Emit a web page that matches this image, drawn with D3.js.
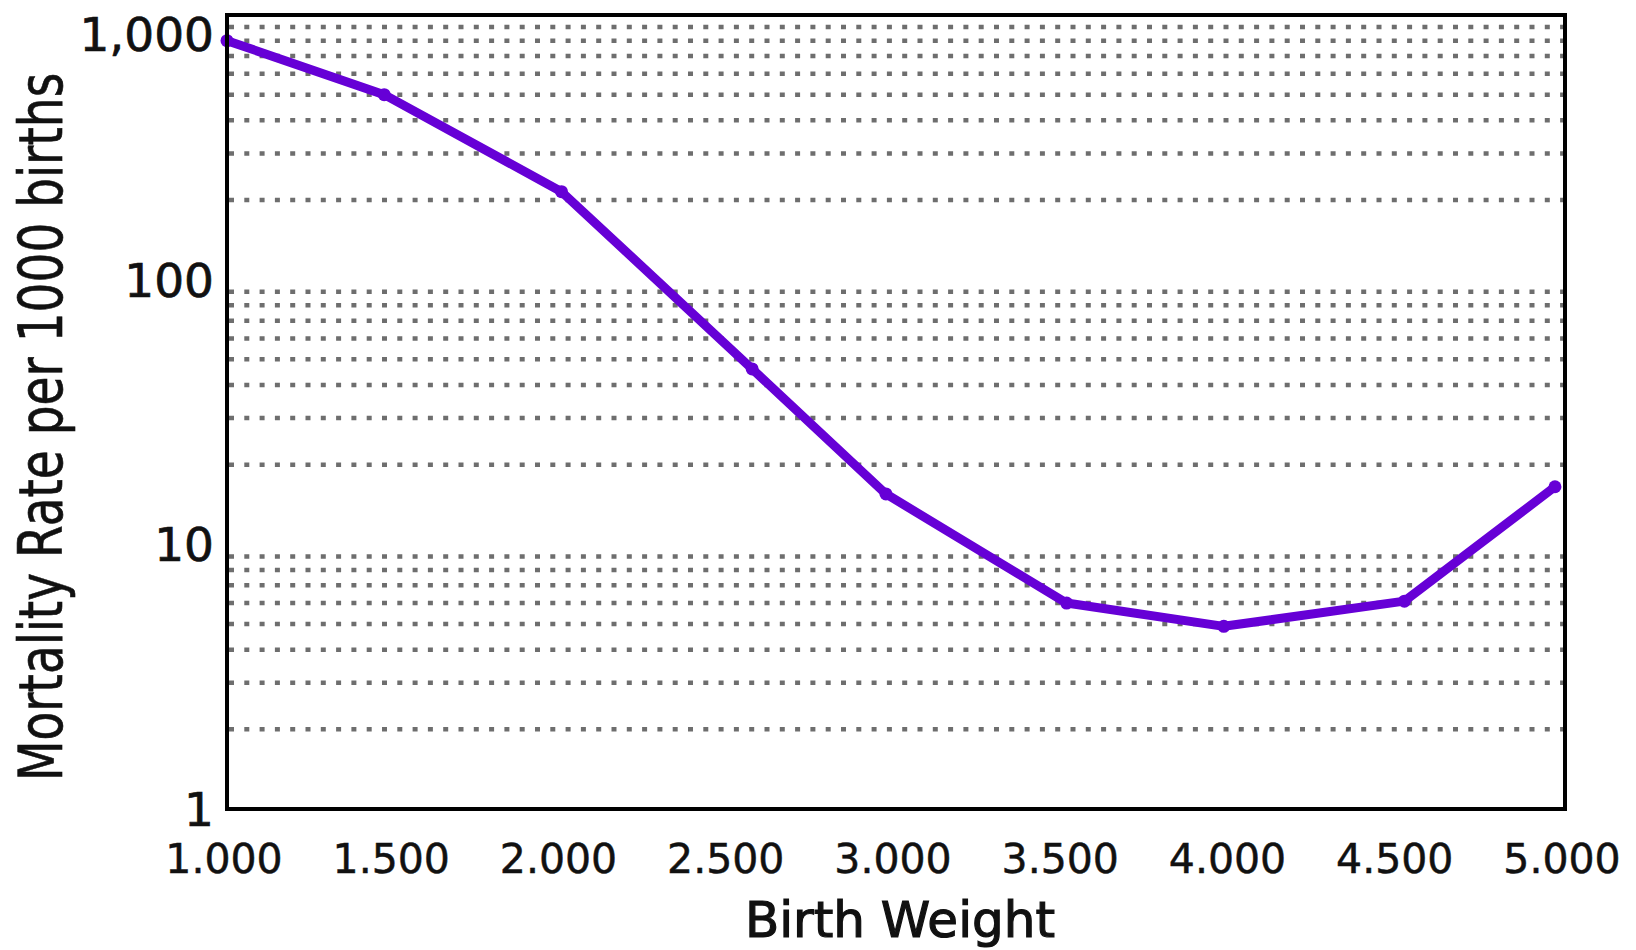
<!DOCTYPE html>
<html>
<head>
<meta charset="utf-8">
<script src="https://cdn.jsdelivr.net/npm/d3@7"></script>
<style>
    body { margin: 0; background: #fff; }
    text { font-family: "DejaVu Sans", Verdana, sans-serif; fill: #111; }
</style>
</head>
<body>
<svg id="viz_mortality"></svg>
<script>
// birth weight (g) and neonatal mortality per 1000 births
var weights = [1000, 1470, 2000, 2570, 2970, 3510, 3980, 4520, 4970];
var rates = [800, 500, 215, 46, 15.5, 6, 4.9, 6.1, 16.5];
var xTicks = [1000, 1500, 2000, 2500, 3000, 3500, 4000, 4500, 5000];
var yTicks = [1, 10, 100, 1000];
var xTitle = "Birth Weight";
var yTitle = "Mortality Rate per 1000 births";

var width = 1636,
    height = 950,
    margin = {
        "top": 15,
        "right": 71,
        "bottom": 141,
        "left": 227
    },
    purple = "#6600d6",
    inner_w = width - margin.left - margin.right,
    inner_h = height - margin.top - margin.bottom;

var svg = d3.select("svg#viz_mortality")
        .attr("width", width)
        .attr("height", height);

var x = d3.scaleLinear()
    .domain([1000, 5000])
    .range([margin.left, margin.left + inner_w]);

var y = d3.scaleLog()
    .domain([1, 1000])
    .range([margin.top + inner_h, margin.top]);

// dotted minor grid (2..9, 20..90, 200..900), no line on the decades
var minor = y.ticks().filter(function(d) {
    return Math.abs(Math.log10(d) - Math.round(Math.log10(d))) > 1e-6;
});

svg.append("g")
        .attr("class", "grid")
    .selectAll("line")
    .data(minor)
    .enter()
    .append("line")
        .attr("x1", x(1000) + 2)
        .attr("x2", x(5000))
        .attr("y1", function(d) { return y(d); })
        .attr("y2", function(d) { return y(d); })
        .attr("stroke", "#6e6e6e")
        .attr("stroke-width", 4.5)
        .attr("stroke-dasharray", "5,10.3");

var line = d3.line()
    .x(function(d, i) { return x(weights[i]); })
    .y(function(d) { return y(d); });

svg.append("path")
    .datum(rates)
        .attr("d", line)
        .attr("fill", "none")
        .attr("stroke", purple)
        .attr("stroke-width", 9)
        .attr("stroke-linejoin", "round")
        .attr("stroke-linecap", "round");

svg.selectAll("circle.pt")
    .data(rates)
    .enter()
    .append("circle")
        .attr("class", "pt")
        .attr("cx", function(d, i) { return x(weights[i]); })
        .attr("cy", function(d) { return y(d); })
        .attr("r", 6.5)
        .attr("fill", purple);

// frame
svg.append("rect")
    .attr("x", margin.left)
    .attr("y", margin.top)
    .attr("width", inner_w)
    .attr("height", inner_h)
    .attr("fill", "none")
    .attr("stroke", "#000")
    .attr("stroke-width", 4);

svg.append("g")
        .attr("class", "y_labels")
    .selectAll("text")
    .data(yTicks)
    .enter()
    .append("text")
        .attr("x", margin.left - 13)
        .attr("y", function(d) { return Math.max(y(d), 34); })
        .attr("dy", "0.36em")
        .attr("text-anchor", "end")
        .style("font-size", "47px")
        .style("stroke", "#111")
        .style("stroke-width", 0.7)
        .text(d3.format(","));

svg.append("g")
        .attr("class", "x_labels")
    .selectAll("text")
    .data(xTicks)
    .enter()
    .append("text")
        .attr("x", function(d) { return x(d) - 3; })
        .attr("y", margin.top + inner_h + 64)
        .attr("text-anchor", "middle")
        .style("font-size", "41px")
        .style("stroke", "#111")
        .style("stroke-width", 0.5)
        .text(function(d) {
            return d3.format(",")(d).replace(",", ".");
        });

svg.append("text")
    .attr("x", margin.left + inner_w / 2 + 4)
    .attr("y", 937)
    .attr("text-anchor", "middle")
    .style("font-size", "50px")
    .style("stroke", "#111")
    .style("stroke-width", 1.2)
    .text(xTitle);

// narrow, tall lettering in the reference: stretch across the baseline
svg.append("text")
    .attr("transform", "translate(62," + 427 + ") rotate(-90) scale(1,1.3)")
    .attr("text-anchor", "middle")
    .style("font-size", "47px")
    .style("stroke", "#111")
    .style("stroke-width", 0.5)
    .text(yTitle);
</script>
</body>
</html>
